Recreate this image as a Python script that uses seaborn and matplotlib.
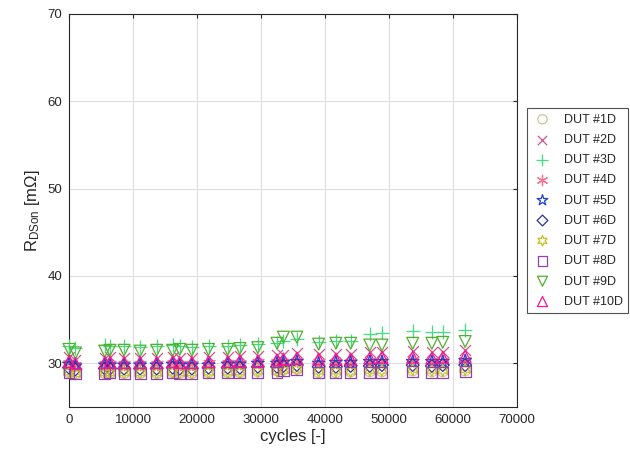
import matplotlib
matplotlib.use("Agg")
import matplotlib.pyplot as plt
import seaborn as sns
import pandas as pd

cycles = [0, 1000, 5600, 6400, 8600, 11100, 13700, 16200, 17300, 19200, 21800, 24800, 26700,
          29500, 32500, 33500, 35600, 39000, 41700, 44000, 47000, 48900, 53700, 56700, 58400, 61900]

dut1 = [29.0, 28.8, 28.9, 28.9, 28.9, 28.9, 28.9, 29.0, 28.9, 28.9, 29.0, 29.0, 29.0,
        29.1, 29.2, 29.3, 29.4, 29.0, 29.0, 29.1, 29.1, 29.1, 29.2, 29.1, 29.1, 29.2]
dut2 = [30.7, 30.4, 30.6, 30.7, 30.6, 30.6, 30.6, 30.7, 30.6, 30.6, 30.7, 30.7, 30.8,
        30.8, 30.9, 31.0, 31.2, 31.1, 31.1, 31.1, 31.3, 31.3, 31.4, 31.3, 31.3, 31.5]
dut3 = [32.0, 31.8, 32.1, 32.0, 32.0, 31.9, 32.0, 32.1, 32.0, 31.9, 32.0, 32.0, 32.1,
        32.2, 32.3, 32.6, 32.8, 32.5, 32.6, 32.6, 33.4, 33.5, 33.7, 33.6, 33.6, 33.8]
dut4 = [30.0, 29.8, 29.9, 29.9, 29.9, 29.9, 29.9, 30.0, 29.9, 29.9, 30.0, 30.0, 30.0,
        30.1, 30.1, 30.2, 30.3, 30.2, 30.2, 30.2, 30.3, 30.3, 30.4, 30.3, 30.3, 30.4]
dut5 = [29.9, 29.7, 29.8, 29.8, 29.8, 29.8, 29.8, 29.9, 29.8, 29.8, 29.8, 29.9, 29.9,
        30.0, 30.0, 30.1, 30.2, 30.0, 30.1, 30.1, 30.2, 30.2, 30.2, 30.2, 30.2, 30.3]
dut6 = [29.5, 29.3, 29.4, 29.4, 29.4, 29.4, 29.4, 29.5, 29.4, 29.4, 29.5, 29.5, 29.5,
        29.6, 29.6, 29.7, 29.8, 29.6, 29.6, 29.7, 29.7, 29.8, 29.8, 29.7, 29.8, 29.8]
dut7 = [29.0, 28.8, 28.9, 28.9, 28.9, 28.9, 28.9, 29.0, 28.9, 28.9, 29.0, 29.0, 29.0,
        29.1, 29.1, 29.2, 29.3, 29.1, 29.1, 29.1, 29.2, 29.2, 29.3, 29.2, 29.2, 29.3]
dut8 = [28.9, 28.8, 28.8, 28.9, 28.8, 28.8, 28.8, 28.9, 28.8, 28.8, 28.9, 28.9, 28.9,
        29.0, 29.0, 29.2, 29.3, 28.9, 28.9, 28.9, 29.0, 29.0, 29.1, 29.0, 29.0, 29.1]
dut9 = [31.6, 31.2, 31.4, 31.5, 31.5, 31.4, 31.5, 31.5, 31.6, 31.5, 31.6, 31.6, 31.7,
        31.8, 32.3, 33.0, 33.0, 32.2, 32.3, 32.3, 32.1, 32.1, 32.3, 32.3, 32.4, 32.5]
dut10 = [30.2, 30.0, 30.1, 30.1, 30.1, 30.1, 30.1, 30.2, 30.1, 30.1, 30.2, 30.2, 30.3,
         30.3, 30.4, 30.5, 30.6, 30.5, 30.5, 30.5, 30.6, 30.7, 30.7, 30.6, 30.7, 30.8]

labels = ["DUT #1D", "DUT #2D", "DUT #3D", "DUT #4D", "DUT #5D",
          "DUT #6D", "DUT #7D", "DUT #8D", "DUT #9D", "DUT #10D"]
series = [dut1, dut2, dut3, dut4, dut5, dut6, dut7, dut8, dut9, dut10]

sns.set_style("white")
plt.rcParams["font.family"] = ["Liberation Sans", "DejaVu Sans"]
plt.rcParams["mathtext.fontset"] = "custom"
plt.rcParams["mathtext.rm"] = "Liberation Sans"
plt.rcParams["mathtext.it"] = "Liberation Sans:italic"

colors = ["#C8C898", "#D0508A", "#40E080", "#FF7090", "#2040D0",
          "#303090", "#C8C020", "#9040B0", "#50B030", "#FF1090"]
markers = ["o", "x", "+", (6, 2, 0), "*", "D", (6, 1, 0), "s", "v", "^"]
sizes = [62, 62, 90, 78, 90, 42, 78, 62, 72, 72]
filled = [True, False, False, False, True, True, True, True, True, True]

fig = plt.figure(figsize=(6.3, 4.55), dpi=100)
ax = fig.add_axes([69 / 630, 1 - 407 / 455, 448 / 630, 393 / 455])

for lab, vals, c, m, s, f in zip(labels, series, colors, markers, sizes, filled):
    df = pd.DataFrame({"cycles": cycles, "R": vals})
    if f:
        sns.scatterplot(data=df, x="cycles", y="R", ax=ax, marker=m, s=s,
                        color=c, facecolor="none", edgecolor=c, linewidth=0.9,
                        label=lab, clip_on=False, zorder=3)
    else:
        sns.scatterplot(data=df, x="cycles", y="R", ax=ax, marker=m, s=s,
                        color=c, linewidth=0.9, label=lab, clip_on=False, zorder=3)

ax.set_xlim(0, 70000)
ax.set_ylim(25, 70)
ax.set_xticks(range(0, 70001, 10000))
ax.set_yticks([30, 40, 50, 60, 70])
ax.grid(True, color="#DEDEDE", linewidth=0.8)
ax.set_axisbelow(True)
ax.tick_params(direction="in", length=3, labelsize=9.5, colors="#262626",
               top=True, right=True, pad=5)
for sp in ax.spines.values():
    sp.set_color("#262626")
    sp.set_linewidth(0.8)

ax.set_xlabel("cycles [-]", fontsize=12, color="#262626", labelpad=2)
ax.set_ylabel(r"R$_{\mathrm{DSon}}$ [m$\Omega$]", fontsize=12, color="#262626", labelpad=4)

leg = ax.legend(loc="upper left", bbox_to_anchor=(1.022, 0.761), borderaxespad=0,
                fontsize=9, frameon=True, fancybox=False, edgecolor="#262626",
                labelspacing=0.66, handlelength=1.6, handletextpad=0.9, borderpad=0.45,
                markerscale=0.85)
leg.get_frame().set_linewidth(0.8)

fig.savefig("out.png", dpi=100)
